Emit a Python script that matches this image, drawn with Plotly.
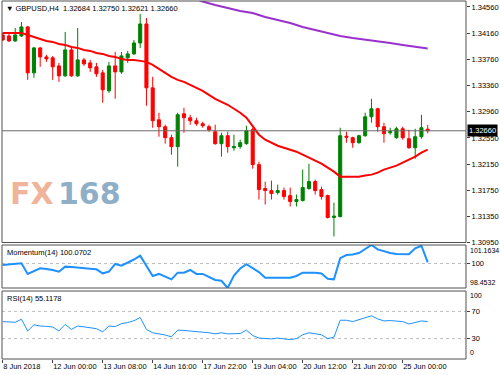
import plotly.graph_objects as go

# ---------------- data ----------------
bar_index = list(range(69))

open_ = [1.34131, 1.34116, 1.34039, 1.34116, 1.34254, 1.33549, 1.33932, 1.33794, 1.33779, 1.33656,
         1.33503, 1.33901, 1.33503, 1.33748, 1.33702, 1.33641, 1.33549, 1.33273, 1.33656, 1.33564,
         1.33779, 1.33840, 1.34008, 1.34300, 1.33319, 1.32829, 1.32722, 1.32554, 1.32416, 1.32921,
         1.32860, 1.32814, 1.32768, 1.32722, 1.32646, 1.32462, 1.32584, 1.32400, 1.32416, 1.32462,
         1.32676, 1.32140, 1.31773, 1.31742, 1.31711, 1.31742, 1.31665, 1.31574, 1.31589, 1.31773,
         1.31880, 1.31757, 1.31665, 1.31329, 1.31344, 1.32577, 1.32554, 1.32477, 1.32584, 1.32875,
         1.32998, 1.32722, 1.32630, 1.32554, 1.32691, 1.32538, 1.32400, 1.32569, 1.32684]
high = [1.34162, 1.34146, 1.34238, 1.34330, 1.34269, 1.33947, 1.33947, 1.33825, 1.33809, 1.33702,
        1.34177, 1.33932, 1.34238, 1.33779, 1.33748, 1.33702, 1.33595, 1.33718, 1.33871, 1.33871,
        1.33886, 1.34054, 1.34453, 1.34391, 1.33488, 1.32937, 1.32753, 1.32600, 1.32937, 1.33013,
        1.32906, 1.32860, 1.32799, 1.32753, 1.32753, 1.32630, 1.32646, 1.32600, 1.32523, 1.32737,
        1.32707, 1.32186, 1.31880, 1.31895, 1.31834, 1.31788, 1.31788, 1.31681, 1.32064, 1.32155,
        1.31910, 1.31803, 1.31681, 1.31558, 1.32707, 1.32646, 1.32569, 1.32600, 1.32937, 1.33151,
        1.33013, 1.32783, 1.32707, 1.32722, 1.32722, 1.32676, 1.32691, 1.32906, 1.32750]
low = [1.34039, 1.34024, 1.34024, 1.34100, 1.33442, 1.33473, 1.33641, 1.33718, 1.33442, 1.33411,
       1.33488, 1.33488, 1.33488, 1.33656, 1.33564, 1.33488, 1.33090, 1.33243, 1.33151, 1.33534,
       1.33702, 1.33825, 1.33932, 1.33044, 1.32707, 1.32569, 1.32462, 1.32293, 1.32110, 1.32630,
       1.32753, 1.32737, 1.32707, 1.32646, 1.32446, 1.32263, 1.32324, 1.32355, 1.32385, 1.32446,
       1.32079, 1.31604, 1.31528, 1.31604, 1.31681, 1.31604, 1.31497, 1.31497, 1.31574, 1.31757,
       1.31681, 1.31604, 1.31313, 1.31038, 1.31329, 1.32477, 1.32400, 1.32462, 1.32569, 1.32783,
       1.32646, 1.32477, 1.32600, 1.32538, 1.32523, 1.32385, 1.32232, 1.32538, 1.32621]
close = [1.34054, 1.34039, 1.34131, 1.34254, 1.33549, 1.33932, 1.33794, 1.33763, 1.33641, 1.33503,
         1.33901, 1.33503, 1.33748, 1.33687, 1.33626, 1.33534, 1.33289, 1.33656, 1.33564, 1.33809,
         1.33840, 1.34008, 1.34300, 1.33319, 1.32814, 1.32722, 1.32554, 1.32416, 1.32906, 1.32860,
         1.32814, 1.32768, 1.32737, 1.32676, 1.32462, 1.32584, 1.32416, 1.32416, 1.32477, 1.32661,
         1.32140, 1.31757, 1.31742, 1.31696, 1.31742, 1.31650, 1.31574, 1.31604, 1.31788, 1.31880,
         1.31742, 1.31650, 1.31329, 1.31351, 1.32584, 1.32561, 1.32477, 1.32584, 1.32875, 1.32998,
         1.32722, 1.32615, 1.32646, 1.32691, 1.32554, 1.32400, 1.32569, 1.32707, 1.32660]

ma_red = [1.34162, 1.34162, 1.34162, 1.34162, 1.34131, 1.34100, 1.34070, 1.34039, 1.34024, 1.33993,
          1.33978, 1.33947, 1.33932, 1.33901, 1.33886, 1.33855, 1.33840, 1.33809, 1.33794, 1.33763,
          1.33748, 1.33748, 1.33733, 1.33718, 1.33672, 1.33610, 1.33549, 1.33488, 1.33442, 1.33411,
          1.33365, 1.33319, 1.33273, 1.33212, 1.33151, 1.33105, 1.33059, 1.32998, 1.32937, 1.32860,
          1.32737, 1.32600, 1.32523, 1.32477, 1.32431, 1.32400, 1.32370, 1.32339, 1.32293, 1.32247,
          1.32201, 1.32155, 1.32094, 1.32033, 1.31956, 1.31956, 1.31956, 1.31956, 1.31972, 1.31987,
          1.32018, 1.32064, 1.32094, 1.32125, 1.32171, 1.32217, 1.32263, 1.32324, 1.32370]

ma_purple_idx = [31, 32, 34, 36, 38, 40, 42, 44, 46, 48, 50, 52, 54, 56, 58, 60, 62, 64, 66, 68]
ma_purple = [1.34682, 1.34644, 1.34590, 1.34544, 1.34499, 1.34468, 1.34407, 1.34361, 1.34315, 1.34254,
             1.34208, 1.34162, 1.34116, 1.34085, 1.34062, 1.34031, 1.34008, 1.33978, 1.33947, 1.33924]

momentum = [99.90, 99.94, 99.97, 100.01, 99.34, 99.53, 99.70, 99.65, 99.59, 99.48,
            99.80, 99.78, 99.73, 99.68, 99.67, 99.63, 99.38, 99.48, 99.97, 99.86,
            100.03, 100.25, 100.49, 99.84, 99.21, 99.34, 99.15, 99.00, 99.42, 99.42,
            99.59, 99.34, 99.34, 99.15, 98.96, 98.91, 98.4532, 99.24, 99.68, 99.95,
            99.70, 99.46, 99.10, 99.10, 99.11, 99.13, 99.10, 99.21, 99.42, 99.42,
            99.42, 99.37, 99.04, 99.00, 100.33, 100.53, 100.56, 100.66, 100.90, 101.1634,
            100.89, 100.75, 100.66, 100.60, 100.58, 100.58, 100.96, 101.12, 100.0702]

rsi = [55.0, 54.0, 54.0, 58.5, 41.3, 50.3, 48.5, 48.0, 47.0, 41.3,
       51.0, 43.5, 48.5, 47.3, 46.0, 44.6, 40.0, 48.5, 47.6, 52.0,
       53.6, 56.3, 61.0, 43.5, 38.6, 37.0, 35.3, 32.6, 42.5, 42.0,
       41.3, 40.5, 39.8, 38.6, 37.0, 38.6, 37.0, 37.2, 37.5, 42.5,
       34.5, 30.8, 30.0, 29.6, 30.8, 30.0, 28.5, 30.0, 35.6, 38.6,
       37.5, 35.6, 30.0, 32.0, 57.0, 57.0, 55.0, 57.8, 60.8, 63.5,
       59.0, 56.0, 56.5, 56.3, 55.0, 51.5, 53.3, 56.0, 55.1178]

tick_bars = [0, 8, 16, 24, 32, 40, 48, 56, 64]
tick_labels = ["8 Jun 2018", "12 Jun 00:00", "13 Jun 08:00", "14 Jun 16:00", "17 Jun 22:00",
               "19 Jun 04:00", "20 Jun 12:00", "21 Jun 20:00", "25 Jun 00:00"]
price_ticks = [1.34560, 1.34160, 1.33760, 1.33360, 1.32960, 1.32550, 1.32150, 1.31750, 1.31350, 1.30950]
last_price = 1.32660
header = "GBPUSD,H4\u00a0\u00a01.32684 1.32750 1.32621 1.32660"
mom_label = "Momentum(14) 100.0702"
rsi_label = "RSI(14) 55.1178"
mom_max, mom_min = 101.1634, 98.4532

# ---------------- figure ----------------
FONT = "Liberation Sans"
FS = 7.5
main_dom = [0.3254, 1.0]
mom_dom = [0.1983, 0.3184]
rsi_dom = [0.0, 0.1899]

fig = go.Figure()
fig.add_trace(go.Candlestick(
    x=bar_index, open=open_, high=high, low=low, close=close,
    xaxis="x", yaxis="y",
    increasing=dict(line=dict(color="#008000", width=1), fillcolor="#008000"),
    decreasing=dict(line=dict(color="#FF0000", width=1), fillcolor="#FF0000"),
    whiskerwidth=0, hoverinfo="skip"))
fig.add_trace(go.Scatter(x=bar_index, y=ma_red, mode="lines", xaxis="x", yaxis="y",
                         line=dict(color="#FF0000", width=2), hoverinfo="skip"))
fig.add_trace(go.Scatter(x=ma_purple_idx, y=ma_purple, mode="lines", xaxis="x", yaxis="y",
                         line=dict(color="#9932CC", width=2), hoverinfo="skip"))
fig.add_trace(go.Scatter(x=bar_index, y=momentum, mode="lines", xaxis="x2", yaxis="y2",
                         line=dict(color="#1E90FF", width=2), hoverinfo="skip"))
fig.add_trace(go.Scatter(x=bar_index, y=rsi, mode="lines", xaxis="x3", yaxis="y3",
                         line=dict(color="#1E90FF", width=1), hoverinfo="skip"))

xr = [-0.11, 74.13]
common_x = dict(range=xr, showgrid=False, zeroline=False, showline=False)
common_y = dict(showgrid=False, zeroline=False, showline=False, side="right",
                ticks="outside", ticklen=3, tickcolor="#404040",
                tickfont=dict(family=FONT, size=FS, color="#000"))

fig.update_layout(
    width=500, height=375,
    margin=dict(l=2, r=34, t=1, b=16),
    paper_bgcolor="white", plot_bgcolor="white",
    showlegend=False,
    font=dict(family=FONT, size=FS, color="#000"),
    xaxis=dict(**common_x, anchor="y", showticklabels=False, ticks="",
               rangeslider=dict(visible=False)),
    xaxis2=dict(**common_x, anchor="y2", matches="x", showticklabels=False, ticks=""),
    xaxis3=dict(**common_x, anchor="y3", matches="x", tickvals=tick_bars, ticktext=tick_labels,
                ticks="outside", ticklen=3, tickcolor="#404040", tickangle=0,
                ticklabelposition="outside right",
                tickfont=dict(family=FONT, size=FS, color="#000")),
    yaxis=dict(**common_y, domain=main_dom, anchor="x", range=[1.30945, 1.34652],
               tickvals=price_ticks, tickformat=".5f"),
    yaxis2=dict(**common_y, domain=mom_dom, anchor="x2", range=[mom_min, mom_max],
                tickvals=[100], ticktext=["100"]),
    yaxis3=dict(**common_y, domain=rsi_dom, anchor="x3", range=[0, 100],
                tickvals=[30, 70], ticktext=["30", "70"]),
)

shapes = []
for dom in (main_dom, mom_dom, rsi_dom):
    shapes.append(dict(type="rect", xref="paper", yref="paper", x0=0, x1=1, y0=dom[0], y1=dom[1],
                       line=dict(color="#505050", width=1), fillcolor="rgba(0,0,0,0)", layer="above"))
shapes.append(dict(type="line", xref="paper", yref="y", x0=0, x1=1, y0=last_price, y1=last_price,
                   line=dict(color="#6a6a6a", width=1), layer="above"))
shapes.append(dict(type="line", xref="paper", yref="y2", x0=0, x1=1, y0=100, y1=100,
                   line=dict(color="#bdbdbd", width=1, dash="dot"), layer="below"))
for lvl in (70, 30):
    shapes.append(dict(type="line", xref="paper", yref="y3", x0=0, x1=1, y0=lvl, y1=lvl,
                       line=dict(color="#bdbdbd", width=1, dash="dot"), layer="below"))
fig.update_layout(shapes=shapes)

ann = []
ann.append(dict(xref="paper", yref="paper", x=0, y=1, xanchor="left", yanchor="top",
                xshift=2, yshift=-1, showarrow=False,
                text="\u25BC " + header, font=dict(family=FONT, size=FS, color="#000")))
ann.append(dict(xref="paper", yref="paper", x=0, y=mom_dom[1], xanchor="left", yanchor="top",
                xshift=3, yshift=-1, showarrow=False, text=mom_label,
                font=dict(family=FONT, size=FS, color="#000")))
ann.append(dict(xref="paper", yref="paper", x=0, y=rsi_dom[1], xanchor="left", yanchor="top",
                xshift=3, yshift=-1, showarrow=False, text=rsi_label,
                font=dict(family=FONT, size=FS, color="#000")))
# watermark
ann.append(dict(xref="paper", yref="paper", x=0.013, y=0.4665, xanchor="left", yanchor="middle",
                yshift=-2, showarrow=False, text="<b>FX</b>",
                font=dict(family="DejaVu Sans", size=30, color="#F0B49B")))
ann.append(dict(xref="paper", yref="paper", x=0.117, y=0.4665, xanchor="left", yanchor="middle",
                yshift=-2, showarrow=False, text="<b>168</b>",
                font=dict(family="DejaVu Sans", size=30, color="#8EAFC7")))
# current price box
ann.append(dict(xref="paper", yref="y", x=1, y=last_price, xanchor="left", yanchor="middle",
                xshift=1, showarrow=False, text="1.32660", bgcolor="#000000", borderpad=1,
                font=dict(family=FONT, size=FS, color="#FFFFFF")))
# clamped scale labels
for txt, yp in (("101.1634", 0.3018), ("98.4532", 0.2123), ("100", 0.176), ("0", 0.0168)):
    ann.append(dict(xref="paper", yref="paper", x=1, y=yp, xanchor="left", yanchor="middle",
                    xshift=2, showarrow=False, text=txt,
                    font=dict(family=FONT, size=7, color="#000")))
fig.update_layout(annotations=ann)

fig.write_html("out.html", config={"displayModeBar": False},
               post_script="document.body.style.margin='0';document.body.style.overflow='hidden';")
